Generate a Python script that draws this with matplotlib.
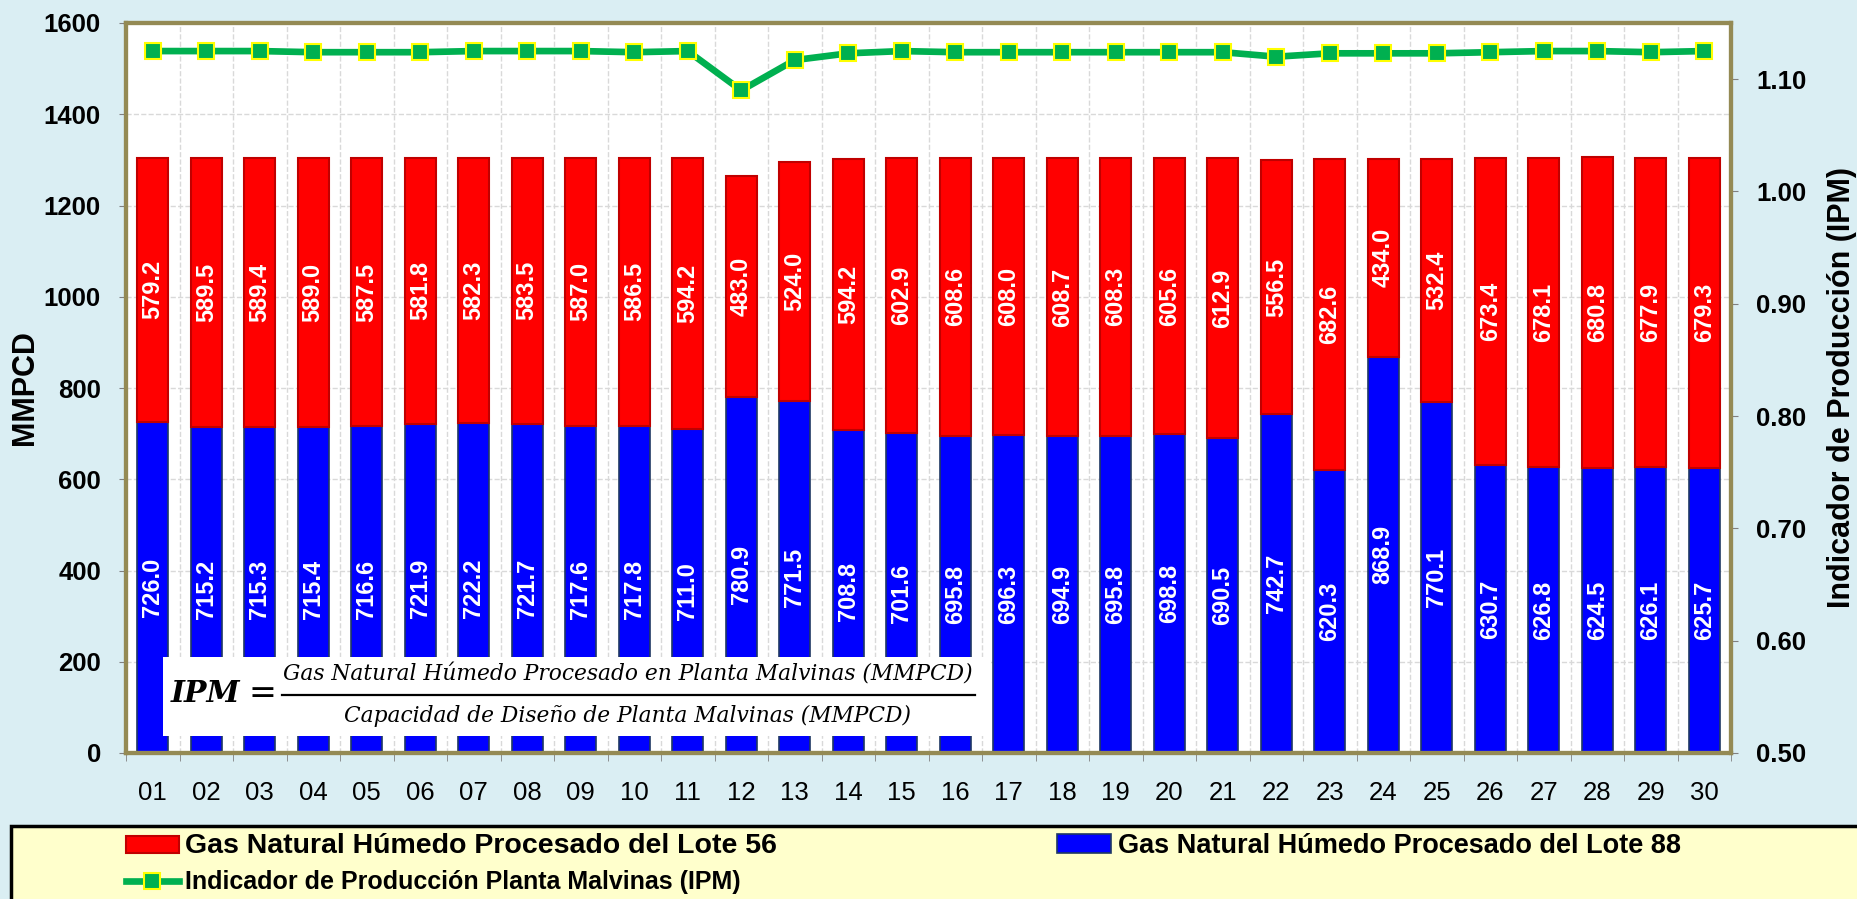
import matplotlib
matplotlib.use('Agg')
import matplotlib.pyplot as plt
from matplotlib.patches import Rectangle, Patch
from matplotlib.lines import Line2D
from matplotlib.ticker import FormatStrFormatter
import numpy as np

plt.rcParams['font.family'] = ['Liberation Sans', 'DejaVu Sans']

days = ['01', '02', '03', '04', '05', '06', '07', '08', '09', '10',
        '11', '12', '13', '14', '15', '16', '17', '18', '19', '20',
        '21', '22', '23', '24', '25', '26', '27', '28', '29', '30']
lote88 = [726.0, 715.2, 715.3, 715.4, 716.6, 721.9, 722.2, 721.7, 717.6, 717.8,
          711.0, 780.9, 771.5, 708.8, 701.6, 695.8, 696.3, 694.9, 695.8, 698.8,
          690.5, 742.7, 620.3, 868.9, 770.1, 630.7, 626.8, 624.5, 626.1, 625.7]
lote56 = [579.2, 589.5, 589.4, 589.0, 587.5, 581.8, 582.3, 583.5, 587.0, 586.5,
          594.2, 483.0, 524.0, 594.2, 602.9, 608.6, 608.0, 608.7, 608.3, 605.6,
          612.9, 556.5, 682.6, 434.0, 532.4, 673.4, 678.1, 680.8, 677.9, 679.3]
ipm = [1.125, 1.125, 1.125, 1.124, 1.124, 1.124, 1.125, 1.125, 1.125, 1.124,
       1.125, 1.090, 1.117, 1.123, 1.125, 1.124, 1.124, 1.124, 1.124, 1.124,
       1.124, 1.120, 1.123, 1.123, 1.123, 1.124, 1.125, 1.125, 1.124, 1.125]

label56 = 'Gas Natural Húmedo Procesado del Lote 56'
label88 = 'Gas Natural Húmedo Procesado del Lote 88'
label_ipm = 'Indicador de Producción Planta Malvinas (IPM)'
num_text = 'Gas Natural Húmedo Procesado en Planta Malvinas (MMPCD)'
den_text = 'Capacidad de Diseño de Planta Malvinas (MMPCD)'

W, H = 1858, 899
fig = plt.figure(figsize=(W / 100, H / 100), dpi=100, facecolor='#DAEEF3')
ax = fig.add_axes([126 / W, 1 - 753 / H, (1731 - 126) / W, (753 - 23) / H])
ax.set_facecolor('white')

x = np.arange(len(days))
bw = 0.58
ax.bar(x, lote88, bw, color='#0000FF', edgecolor='#1F3864', linewidth=1.2, zorder=2)
ax.bar(x, lote56, bw, bottom=lote88, color='#FF0000', edgecolor='#C00000',
       linewidth=1.5, zorder=2)
for xi, b, r in zip(x, lote88, lote56):
    ax.text(xi, b / 2, f'{b:.1f}', rotation=90, ha='center', va='center',
            color='white', fontsize=17, fontweight='bold', zorder=3)
    ax.text(xi, b + r / 2, f'{r:.1f}', rotation=90, ha='center', va='center',
            color='white', fontsize=17, fontweight='bold', zorder=3)

ax.set_xlim(-0.5, len(days) - 0.5)
ax.set_ylim(0, 1600)
ax.set_yticks(range(0, 1601, 200))
ax.set_xticks(x)
ax.set_xticklabels(days)
ax.set_xticks(np.arange(-0.5, len(days), 1), minor=True)
ax.tick_params(axis='x', which='major', length=0, pad=20, labelsize=18.5)
ax.tick_params(axis='x', which='minor', length=6, color='#808080', direction='out')
ax.tick_params(axis='y', length=5, color='#808080', pad=13, labelsize=18.5)
for t in ax.get_yticklabels():
    t.set_fontweight('bold')
ax.grid(True, which='minor', axis='x', color='#D9D9D9', ls='--', lw=1)
ax.grid(True, which='major', axis='y', color='#D9D9D9', ls='--', lw=1)
ax.set_axisbelow(True)

ax2 = ax.twinx()
ax2.plot(x, ipm, color='#00B050', lw=4.8, marker='s', ms=12, mfc='#00B050',
         mec='#FFFF00', mew=1.5, zorder=5, clip_on=False)
ax2.set_ylim(0.5, 1.15)
ax2.set_yticks(np.arange(0.5, 1.101, 0.1))
ax2.yaxis.set_major_formatter(FormatStrFormatter('%.2f'))
ax2.tick_params(axis='y', length=5, color='#808080', pad=13, labelsize=18.5)
for t in ax2.get_yticklabels():
    t.set_fontweight('bold')

for a in (ax, ax2):
    for s in a.spines.values():
        s.set_color('#948A54')
        s.set_linewidth(3)

# axis titles
fig.text(25 / W, 1 - 388 / H, 'MMPCD', rotation=90, ha='center', va='center',
         fontsize=22, fontweight='bold')
fig.text(1842 / W, 1 - 388 / H, 'Indicador de Producción (IPM)', rotation=90,
         ha='center', va='center', fontsize=22, fontweight='bold')

# formula box
fig.add_artist(Rectangle((163 / W, 1 - 736 / H), (991 - 163) / W, (736 - 657) / H,
                         transform=fig.transFigure, fc='white', ec='none', zorder=10))
renderer = fig.canvas.get_renderer()
num = fig.text(628 / W, 1 - 675 / H, num_text, family='DejaVu Serif', style='italic',
               fontsize=17, ha='center', va='center', zorder=11)
w = num.get_window_extent(renderer).width
fs = 17 * 691 / w
num.set_fontsize(fs)
fig.text(628 / W, 1 - 716 / H, den_text, family='DejaVu Serif', style='italic',
         fontsize=fs, ha='center', va='center', zorder=11)
fig.add_artist(Line2D([282 / W, 975 / W], [1 - 695 / H, 1 - 695 / H],
                      transform=fig.transFigure, color='black', lw=1.6, zorder=11))
fig.text(171 / W, 1 - 694 / H, 'IPM', family='DejaVu Serif', style='italic',
         fontweight='bold', fontsize=21.5, ha='left', va='center', zorder=11)
fig.text(249 / W, 1 - 694 / H, '=', family='DejaVu Serif',
         fontsize=24, ha='left', va='center', zorder=11)

# legend area
fig.add_artist(Rectangle((11 / W, -0.05), 1.1, (899 - 826) / H + 0.05,
                         transform=fig.transFigure, fc='#FFFFCC', ec='black',
                         lw=2.5, zorder=1, clip_on=False))
h_red = Patch(fc='#FF0000', ec='#C00000', lw=1.5)
h_blue = Patch(fc='#0000FF', ec='#1F3864', lw=1.2)
h_line = Line2D([], [], color='#00B050', lw=4.8, marker='s', ms=12, mfc='#00B050',
                mec='#FFFF00', mew=1.5)
common = dict(loc='upper left', frameon=False,
              handletextpad=0.25, borderpad=0, borderaxespad=0)
leg1 = fig.legend([h_red, h_line], [label56, label_ipm],
                  bbox_to_anchor=(126 / W, 1 - 833 / H), labelspacing=0.45,
                  prop={'weight': 'bold', 'size': 18}, handlelength=2.1, **common)
leg1.get_texts()[0].set_fontsize(20.5)
fig.legend([h_blue], [label88], bbox_to_anchor=(1057 / W, 1 - 833 / H),
           prop={'weight': 'bold', 'size': 19.5}, handlelength=2.0, **common)

fig.savefig('out.png', dpi=100, facecolor=fig.get_facecolor())
